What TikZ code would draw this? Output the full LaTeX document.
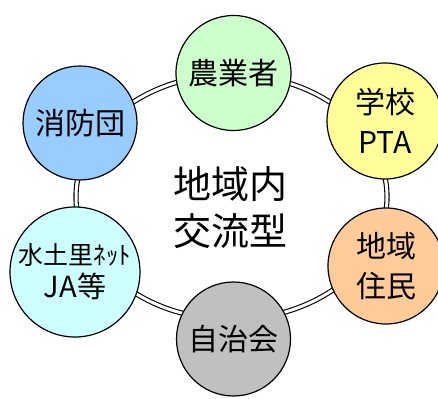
\documentclass[tikz,border=0pt]{standalone}
\usepackage{fontspec}
\newfontfamily\jp{Noto Sans CJK JP}
\definecolor{cgreen}{HTML}{CCFFCC}
\definecolor{cyellow}{HTML}{FFFF99}
\definecolor{corange}{HTML}{FFCC99}
\definecolor{cgray}{HTML}{C0C0C0}
\definecolor{ccyan}{HTML}{CCFFFF}
\definecolor{cblue}{HTML}{99CCFF}
\begin{document}
\begin{tikzpicture}[x=1pt,y=1pt,
  member/.style={circle,draw=black,line width=1.2pt,inner sep=0pt,minimum size=#1,align=center,font=\jp\fontsize{30}{40}\selectfont},
  ringline/.style={draw=black,line width=1.1pt,double=white,double distance=3pt}]
\useasboundingbox (0,0) rectangle (438,398);
\draw[ringline] (231.5,201) ellipse [x radius=155.5, y radius=122.5];
\node[member=115pt,fill=cgreen] (farmer) at (233.5,325) {農業者};
\node[member=116pt,fill=cyellow] (school) at (385,277) {学校\\PTA};
\node[member=116pt,fill=corange] (resid) at (386,132) {地域\\住民};
\node[member=114pt,fill=cgray] (assoc) at (233.5,59) {自治会};
\node[member=130pt,fill=ccyan,font=\jp\fontsize{29}{33}\selectfont] (water) at (75,126) {{\fontsize{25}{33}\selectfont 水土里ﾈｯﾄ}\\JA等};
\node[member=114pt,fill=cblue] (fire) at (80,275) {消防団};
\node[align=center,inner sep=0pt,font=\jp\fontsize{38}{47}\selectfont] (center) at (230,190.5) {地域内\\交流型};
\end{tikzpicture}
\end{document}
